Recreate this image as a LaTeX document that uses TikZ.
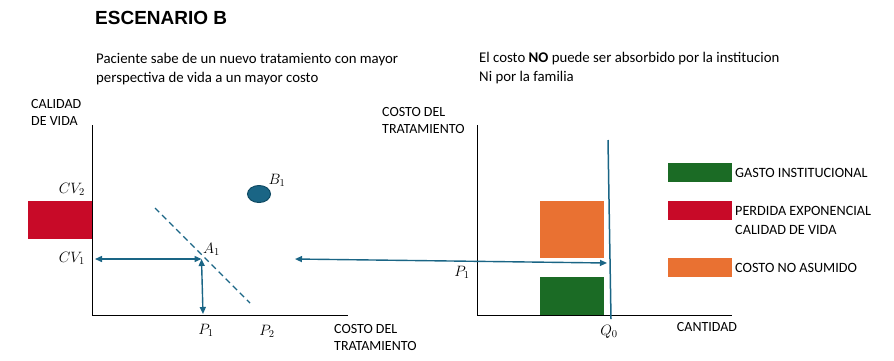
\documentclass[tikz,border=0pt]{standalone}
\usepackage{fix-cm}
\usepackage{fontspec}
\setmainfont{Carlito}
\newfontfamily\titlefont{Liberation Sans}
\usetikzlibrary{arrows.meta,shapes.geometric}
\definecolor{tblue}{HTML}{1A6585}
\definecolor{tdark}{HTML}{0F4A63}
\definecolor{tred}{HTML}{C80A28}
\definecolor{tgreen}{HTML}{1B6B25}
\definecolor{torange}{HTML}{E97132}
\begin{document}
\begin{tikzpicture}[x=1pt,y=-1pt,
  txt/.style={font=\fontsize{14.8}{19}\selectfont, inner sep=0pt, anchor=west, align=left},
  axlbl/.style={font=\fontsize{14}{17.5}\selectfont, inner sep=0pt, anchor=west, align=left},
  leg/.style={font=\fontsize{14.2}{19}\selectfont, inner sep=0pt, anchor=west, align=left},
  mlbl/.style={font=\fontsize{15}{17}\selectfont, inner sep=0pt},
  axis/.style={draw=black, line width=1pt},
  barrow/.style={draw=tblue, line width=1.4pt, {Triangle[length=7pt,width=6pt]}-{Triangle[length=7pt,width=6pt]}},
  block/.style={draw=none, inner sep=0pt}
]
\useasboundingbox (0,0) rectangle (894,360);

% titles
\node[anchor=west, inner sep=0pt, font=\titlefont\bfseries\fontsize{19}{22}\selectfont] (title) at (95,18) {ESCENARIO B};
\node[txt] (sub1) at (96,69.5) {Paciente sabe de un nuevo tratamiento con mayor\\perspectiva de vida a un mayor costo};
\node[txt] (sub2) at (479,68.5) {El costo \textbf{NO} puede ser absorbido por la institucion\\Ni por la familia};

% left chart
\coordinate (LO) at (92.5,315.5);
\coordinate (LT) at (92.5,125);
\coordinate (LR) at (348,315.5);
\draw[axis] (LT) -- (LO) -- (LR);
\node[axlbl] (cdv) at (31,112.5) {CALIDAD\\DE VIDA};
\node[axlbl] (ctl) at (334,337.5) {COSTO DEL\\TRATAMIENTO};
\fill[tred] (28,201) rectangle (92,238.5);
\node[mlbl, anchor=east] (cv2) at (85,189) {$CV_2$};
\node[mlbl, anchor=east] (cv1) at (85,258) {$CV_1$};
\draw[tblue, line width=1.4pt, dash pattern=on 6pt off 4pt] (155,208) -- (250,303);
\coordinate (cvp) at (95,259);
\coordinate (a1) at (201.5,259);
\coordinate (p1b) at (203,314);
\draw[barrow] (cvp) -- (a1);
\draw[barrow] (a1) -- (p1b);
\node[mlbl, anchor=south west] (a1l) at (203,256) {$A_1$};
\node[block, ellipse, fill=tblue, draw=tdark, line width=1pt, minimum width=23pt, minimum height=17pt] (b1) at (259,194) {};
\node[mlbl] (b1l) at (277,180) {$B_1$};
\node[mlbl] (p1l) at (206,330) {$P_1$};
\node[mlbl] (p2l) at (267,331) {$P_2$};

% right chart
\coordinate (RO) at (477,315.5);
\coordinate (RT) at (477,125);
\coordinate (RR) at (732,315.5);
\draw[axis] (RT) -- (RO) -- (RR);
\node[axlbl] (ctr) at (382,120.5) {COSTO DEL\\TRATAMIENTO};
\fill[torange] (540,201) rectangle (604,258);
\fill[tgreen] (540,277) rectangle (604,315);
\coordinate (qt) at (608,140);
\coordinate (qb) at (611,319);
\draw[tblue, line width=1.5pt] (qt) -- (qb);
\coordinate (la) at (295,259);
\coordinate (ra) at (607,263);
\draw[barrow] (la) -- (ra);
\node[mlbl] (p1r) at (462,272) {$P_1$};
\node[mlbl] (q0) at (609,332) {$Q_0$};
\node[axlbl, anchor=center] (cant) at (707,327) {CANTIDAD};

% legend
\fill[tgreen] (668,163) rectangle (732,182);
\fill[tred] (668,201) rectangle (732,219.5);
\fill[torange] (668,258) rectangle (732,277);
\node[leg] (lg1) at (735,173) {GASTO INSTITUCIONAL};
\node[leg] (lg2) at (735,220.5) {PERDIDA EXPONENCIAL\\CALIDAD DE VIDA};
\node[leg] (lg3) at (735,268) {COSTO NO ASUMIDO};
\end{tikzpicture}
\end{document}
